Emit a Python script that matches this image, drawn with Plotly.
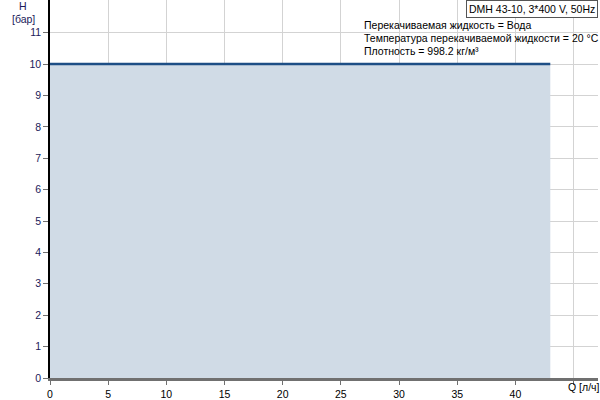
import plotly.graph_objects as go

flow = [0, 43]
head = [10, 10]
x_ticks = [0, 5, 10, 15, 20, 25, 30, 35, 40, 45]
x_labels = ["0", "5", "10", "15", "20", "25", "30", "35", "40", ""]
y_ticks = list(range(0, 12))
legend_text = "DMH 43-10, 3*400 V, 50Hz"
info_lines = ["Перекачиваемая жидкость = Вода",
              "Температура перекачиваемой жидкости = 20 °C",
              "Плотность = 998.2 кг/м³"]

PH = 384  # plot height in px

fig = go.Figure()
fig.add_trace(go.Scatter(x=flow, y=head, mode="lines", fill="tozeroy",
                         fillcolor="#d0dbe6", line=dict(color="#1d4e85", width=2.5),
                         showlegend=False, hoverinfo="skip"))

font = dict(family="Liberation Sans, Arial, sans-serif", size=11, color="#000000")
fig.update_layout(
    width=600, height=400,
    margin=dict(l=50, r=2, t=0, b=16),
    plot_bgcolor="white", paper_bgcolor="white",
    font=font,
    xaxis=dict(range=[0, 47.1], tickvals=x_ticks, ticktext=x_labels,
               showgrid=True, gridcolor="#d3d3d3", gridwidth=1,
               zeroline=False, showline=True, linecolor="#707070", linewidth=3,
               ticks="outside", ticklen=4, tickcolor="#707070",
               tickfont=dict(size=10.5, color="#000000")),
    yaxis=dict(range=[0, 12.04], tickvals=y_ticks,
               showgrid=True, gridcolor="#d3d3d3", gridwidth=1,
               zeroline=False, showline=True, linecolor="#000000", linewidth=1.5,
               ticks="outside", ticklen=5, tickcolor="#707070",
               tickfont=dict(size=10.5, color="#1a1a5a")),
)

fig.add_annotation(x=(566 - 50) / 548, y=-9 / PH, xref="paper", yref="paper",
                   text="Q [л/ч]", showarrow=False, xanchor="left", yanchor="middle",
                   font=dict(size=10.5, color="#000000"))
fig.add_annotation(x=(23 - 50) / 548, y=1 - 6 / PH, xref="paper", yref="paper",
                   text="H", showarrow=False, xanchor="center", yanchor="middle",
                   font=dict(size=10.5, color="#1a1a5a"))
fig.add_annotation(x=(23 - 50) / 548, y=1 - 19 / PH, xref="paper", yref="paper",
                   text="[бар]", showarrow=False, xanchor="center", yanchor="middle",
                   font=dict(size=10.5, color="#1a1a5a"))
fig.add_annotation(x=1.0, y=1.0, xref="paper", yref="paper",
                   text=legend_text, showarrow=False, xanchor="right", yanchor="top",
                   bordercolor="#555555", borderwidth=1, borderpad=2, bgcolor="white",
                   font=dict(size=10.5, color="#000000"))
for i, line in enumerate(info_lines):
    fig.add_annotation(x=(362 - 50) / 548, y=1 - (25 + i * 13.5) / PH,
                       xref="paper", yref="paper", text=line, showarrow=False,
                       xanchor="left", yanchor="middle",
                       font=dict(size=10.5, color="#000000"))

fig.write_html("out.html", config={"displayModeBar": False},
               post_script="document.body.style.margin='0';document.body.style.overflow='hidden';")
